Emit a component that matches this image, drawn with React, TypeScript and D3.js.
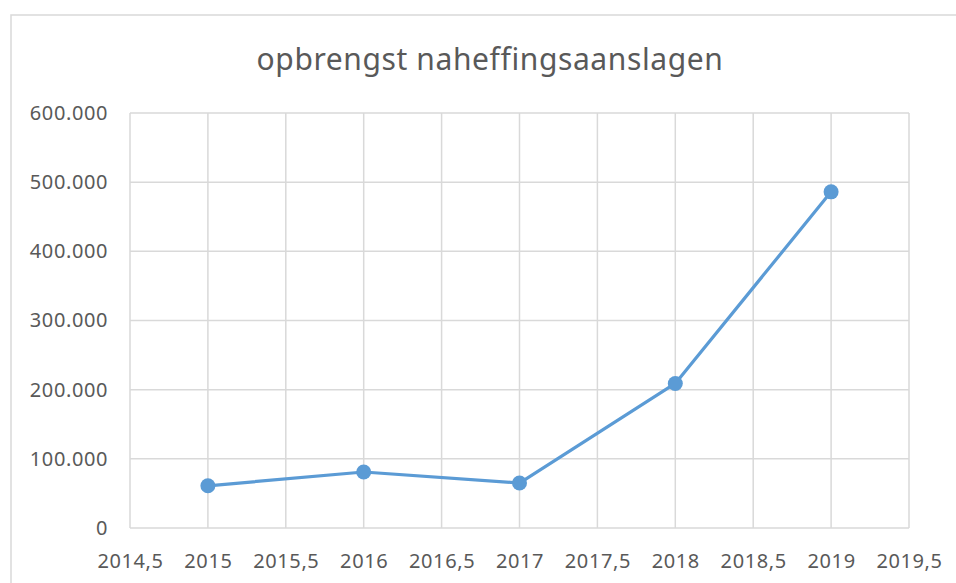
import React, { useEffect, useRef } from "react";
import * as d3 from "d3";

// data
const years = [2015, 2016, 2017, 2018, 2019];
const revenue = [61000, 81000, 65000, 209000, 486000];
const xTicks = [2014.5, 2015, 2015.5, 2016, 2016.5, 2017, 2017.5, 2018, 2018.5, 2019, 2019.5];
const yTicks = [0, 100000, 200000, 300000, 400000, 500000, 600000];
const title = "opbrengst naheffingsaanslagen";

const width = 956,
  height = 583;
const plot = { left: 130, right: 909, top: 113, bottom: 528 };
const textColor = "#595959";
const gridColor = "#d9d9d9";
const lineColor = "#5b9bd5";
const font = "'Noto Sans', 'Open Sans', sans-serif";

// 600000 -> "600.000", 2014.5 -> "2014,5"
const fmtY = (v: number) =>
  v === 0 ? "0" : d3.format(",")(v).replace(/,/g, ".");
const fmtX = (v: number) => String(v).replace(".", ",");

const App: React.FC = () => {
  const ref = useRef<SVGSVGElement | null>(null);

  useEffect(() => {
    const svg = d3.select(ref.current);
    svg.selectAll("*").remove();

    const x = d3.scaleLinear().domain([2014.5, 2019.5]).range([plot.left, plot.right]);
    const y = d3.scaleLinear().domain([0, 600000]).range([plot.bottom, plot.top]);

    // outer chart frame
    svg
      .append("rect")
      .attr("x", 11)
      .attr("y", 15)
      .attr("width", width + 20)
      .attr("height", height + 20)
      .attr("fill", "#fff")
      .attr("stroke", gridColor)
      .attr("stroke-width", 1.5);

    svg
      .append("text")
      .attr("x", 490)
      .attr("y", 70)
      .attr("text-anchor", "middle")
      .attr("font-family", font)
      .attr("font-size", 30)
      .attr("letter-spacing", 0.6)
      .attr("fill", textColor)
      .text(title);

    // gridlines
    const grid = svg.append("g").attr("stroke", gridColor).attr("stroke-width", 1.5);
    grid
      .selectAll(".hg")
      .data(yTicks)
      .join("line")
      .attr("x1", plot.left)
      .attr("x2", plot.right)
      .attr("y1", (d) => y(d))
      .attr("y2", (d) => y(d));
    grid
      .selectAll(".vg")
      .data(xTicks)
      .join("line")
      .attr("x1", (d) => x(d))
      .attr("x2", (d) => x(d))
      .attr("y1", plot.top)
      .attr("y2", plot.bottom);

    // axes
    const xAxis = svg
      .append("g")
      .attr("transform", `translate(0,${plot.bottom})`)
      .call(d3.axisBottom(x).tickValues(xTicks).tickFormat((d) => fmtX(+d)).tickSize(0).tickPadding(40));
    const yAxis = svg
      .append("g")
      .attr("transform", `translate(${plot.left},0)`)
      .call(d3.axisLeft(y).tickValues(yTicks).tickFormat((d) => fmtY(+d)).tickSize(0).tickPadding(22));
    [xAxis, yAxis].forEach((g) => {
      g.select(".domain").remove();
      g.selectAll("text")
        .attr("font-family", font)
        .attr("font-size", 20)
        .attr("letter-spacing", 0.6)
        .attr("fill", textColor);
    });
    xAxis.selectAll("text").attr("dy", 0);

    const line = d3
      .line<number>()
      .x((d, i) => x(years[i]))
      .y((d) => y(d));

    svg
      .append("path")
      .datum(revenue)
      .attr("fill", "none")
      .attr("stroke", lineColor)
      .attr("stroke-width", 3.2)
      .attr("stroke-linejoin", "round")
      .attr("stroke-linecap", "round")
      .attr("d", line);

    svg
      .selectAll(".pt")
      .data(revenue)
      .join("circle")
      .attr("cx", (d, i) => x(years[i]))
      .attr("cy", (d) => y(d))
      .attr("r", 7.5)
      .attr("fill", lineColor);
  }, []);

  return (
    <svg
      ref={ref}
      width={width}
      height={height}
      style={{ position: "absolute", left: 0, top: 0, background: "#fff" }}
    ></svg>
  );
};

export default App;
